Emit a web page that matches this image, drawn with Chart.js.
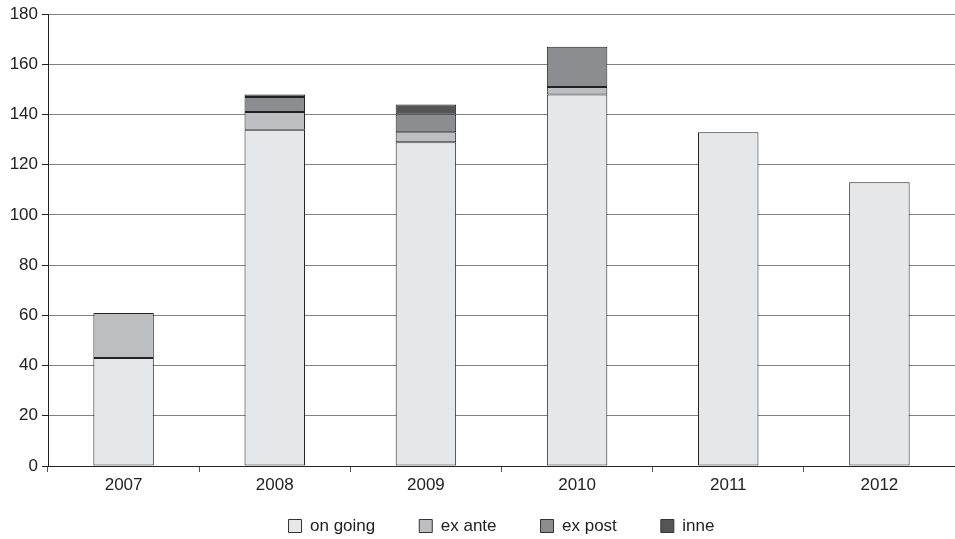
<!DOCTYPE html>
<html><head><meta charset="utf-8">
<script src="https://cdn.jsdelivr.net/npm/chart.js@4/dist/chart.umd.min.js"></script>
<style>html,body{margin:0;padding:0;background:#fff}#wrap{width:955px;height:539px}</style>
</head><body><div id="wrap"><canvas id="c"></canvas></div>
<script>
const categories = ['2007','2008','2009','2010','2011','2012'];
const onGoing = [43,134,129,148,133,113];
const exAnte  = [18,7,4,3,0,0];
const exPost  = [0,6,7,16,0,0];
const inne    = [0,1,4,0,0,0];
const seriesNames = ['on going','ex ante','ex post','inne'];
const seriesColors = ['#e6e7e9','#bdbec1','#8c8d90','#545557'];
const yTicks = [0,20,40,60,80,100,120,140,160,180];

const values = [onGoing, exAnte, exPost, inne];
Chart.defaults.font.family = "'Liberation Sans', Arial, sans-serif";
Chart.defaults.font.size = 17;
Chart.defaults.color = '#222';

const widenXLabelArea = {
  id: 'widenXLabelArea',
  afterLayout(chart) { const x = chart.scales.x; x.bottom = x.top + 40; }
};

new Chart(document.getElementById('c'), {
  type: 'bar',
  data: {
    labels: categories,
    datasets: values.map((v,i)=>({
      label: seriesNames[i], data: v.map(x => x === 0 ? null : x),
      backgroundColor: seriesColors[i], borderColor: '#222', borderWidth: 1,
      barPercentage: 0.4, categoryPercentage: 1.0, borderSkipped: false
    }))
  },
  plugins: [widenXLabelArea],
  options: {
    responsive: true, maintainAspectRatio: false, animation: false,
    layout: { padding: { top: 14, right: 0, left: 0, bottom: 0 } },
    plugins: {
      tooltip: { enabled: false },
      legend: {
        position: 'bottom', fullSize: false, maxHeight: 65.5,
        labels: { boxWidth: 13, boxHeight: 13, padding: 44, color: '#222', font: { size: 17 },
          generateLabels(chart) {
            return chart.data.datasets.map((d,i)=>({
              text: d.label, fillStyle: d.backgroundColor, strokeStyle: '#333', lineWidth: 1,
              hidden: false, datasetIndex: i, fontColor: '#222'
            }));
          }
        }
      }
    },
    scales: {
      x: {
        stacked: true,
        grid: { offset: true, drawOnChartArea: false, drawTicks: true, tickLength: 6, color: '#555' },
        border: { color: '#222', width: 1 },
        ticks: { padding: 3, color: '#222' },
        afterFit(s) { s.height = 7.5; }
      },
      y: {
        stacked: true, min: 0, max: 180,
        afterBuildTicks(s) { s.ticks = yTicks.map(v=>({value:v})); },
        grid: { color: '#808080', lineWidth: 1, tickLength: 6, tickColor: '#222' },
        border: { color: '#222', width: 1 },
        ticks: { padding: 4, color: '#222' },
        afterFit(s) { s.width = 48; }
      }
    }
  }
});
</script></body></html>
